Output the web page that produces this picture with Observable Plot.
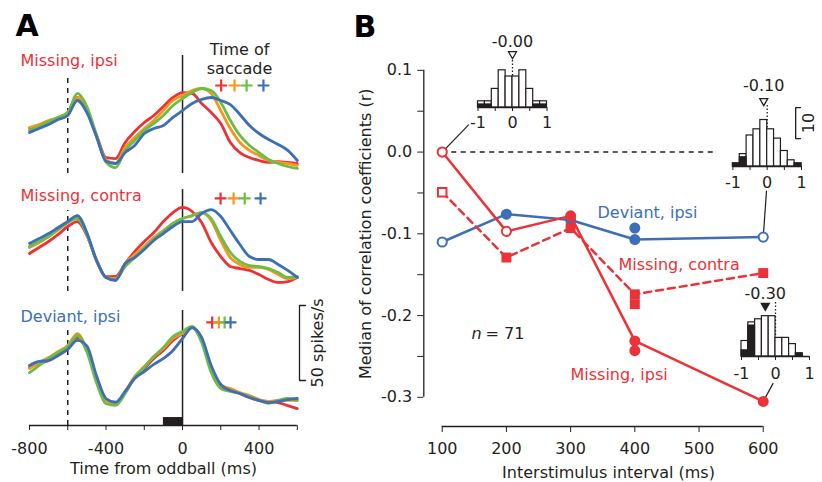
<!DOCTYPE html>
<html><head><meta charset="utf-8">
<script src="https://cdn.jsdelivr.net/npm/d3@7"></script>
<script src="https://cdn.jsdelivr.net/npm/@observablehq/plot@0.6"></script>
<style>
body{margin:0;background:#fff;}
#fig{position:relative;width:822px;height:482px;overflow:hidden;background:#fff;}
#fig svg{position:absolute;}
</style></head><body><div id="fig"></div>
<script>
// ---------- Panel A data (firing rate, spikes/s) ----------
const time = [-800,-750,-700,-650,-600,-550,-500,-450,-400,-350,-300,-250,-200,-150,-100,-50,0,50,100,150,200,250,300,350,400,450,500,550,600];
const ipsiRed    = [31.3,33.3,36,38.7,42,52,43,27,12,11.3,22,29.3,35.3,40,46,52,55.3,54.7,48,42,34.7,22,15.3,12,10,8.7,9.3,8.7,8];
const ipsiOrange = [32,34,36.7,38.7,42,52,44,26,10.5,8,18.7,25.3,31.3,36.7,43.3,50,53.3,56.7,58,54.7,43.3,31.3,22,16.7,13.3,10,8.7,8,6.7];
const ipsiGreen  = [30,32.7,36,38.7,42,54.7,46,27,9,5.3,16.7,23.3,30,34.7,40,46.7,51.3,55.3,58,56.7,48.7,36.7,26.7,20,15.3,10.7,8,6,4.7];
const ipsiBlue   = [28.7,31.3,34,37.3,40,50,42,26,9.5,8,15.3,20,28,31.3,33.3,38.7,43.3,48,50.7,52,50,47.3,40.7,33.3,28,24,20.7,16.7,10];
const contraRed    = [28,32,36,40.7,46,49.3,40,24,12.5,12.7,21.3,29.3,36,42,49.3,55.3,58.7,56,48.7,35.3,26,19.3,18,16.7,14,10.7,8.7,9.3,12];
const contraOrange = [32,35.3,39.3,44,48.7,52,41,23.3,12,11.3,21.3,27.3,32.7,38.7,43.3,48,51.3,53.3,55.3,50,36.7,25.3,20.7,18.7,18.7,17.3,14,11.3,12];
const contraGreen  = [32.7,36,39.3,44,48.7,51.3,40.5,23.3,12,10.7,19.3,25.3,31.3,37.3,42.7,48,51.3,53.3,55.3,51.3,39.3,28.7,22.7,20,19.3,18,15.3,12,12.7];
const contraBlue   = [34.7,38,41.3,45.3,49.3,53.3,42,23.3,12,10,21.3,25.3,30.7,36.7,41.3,46,49.3,49.3,54.7,57.3,52.7,43.3,34,26,24,24,20.7,16.7,12];
const devRed    = [38.7,41.3,43.3,48,52.7,58.7,50,31.3,17,14.7,22,32,38,44.7,50,56.7,61.3,65.3,56.7,38,27.3,24,21.3,18.7,16.7,16,15.3,13.3,11.3];
const devOrange = [38,42,45.3,49.3,53.3,61.3,50.5,31.3,17,14.7,22.7,32.7,39.3,46,51.3,58,61.3,65.3,56.7,38,26.7,24.7,22,20,17.3,16,16.7,16.7,16.7];
const devGreen  = [35.3,40,44.7,48.7,52.7,60,49,28.7,14.5,13.5,21.3,32,38.7,46,52,59.3,62.7,66,55.3,35.3,24.7,22.7,21.3,19.3,16.7,14.7,16.7,18,16.7];
const devBlue   = [40,42.7,43.3,46.7,50.7,56.7,53,33.3,18,15.5,22.7,31.3,36,40.7,44.7,50,58,65.3,58.7,40,27.3,23.3,21.3,18.7,16.7,15.3,16,17.3,18];
const saccIpsi   = [202, 272, 335, 423];
const saccContra = [199, 267, 325, 408];
const saccDev    = [155, 190, 220, 251];
const timeTicks = [-800,-600,-400,-200,0,200,400,600];
const timeTickLabels = [-800,-400,0,400];
const stimBar = [{start:-100, end:0}];

// ---------- Panel B data ----------
const isi = [100, 200, 300, 400, 600];
const missIpsi    = [0.0, -0.097, -0.078, -0.231, -0.305];
const missIpsiSig = [false, false, true, true, true];
const missContra    = [-0.049, -0.129, -0.093, -0.174, -0.148];
const missContraSig = [false, true, true, true, true];
const devIpsi    = [-0.110, -0.076, -0.083, -0.107, -0.104];
const devIpsiSig = [false, true, true, true, false];
const extraIsi = [400];
const missIpsiExtra = [-0.243];
const missContraExtra = [-0.186];
const devIpsiExtra = [-0.093];
const rTicks = [-0.3,-0.25,-0.2,-0.15,-0.1,-0.05,0,0.05,0.1];
const rTickLabels = [-0.3,-0.2,-0.1,0,0.1];
const isiTicks = [100,200,300,400,500,600];

// ---------- Inset histograms ----------
const histEdges = [-1,-0.8,-0.6,-0.4,-0.2,0,0.2,0.4,0.6,0.8,1];
const hist1Counts = [2,2,6,12,10,10,12,6,2,2];
const hist1Black  = [1,1,0,0,0,0,0,0,1,1];
const hist2Counts = [1,4,10,12,15,12,9,5,2,1];
const hist2Black  = [1,3,0,0,0,0,0,0,0,1];
const hist3Counts = [5,11,12,13,13,6,6,4,1,0];
const hist3Black  = [2,10,0,0,0,0,0,0,1,0];
const histMedians = [0, -0.10, -0.30];
const histLabels = ["-0.00", "-0.10", "-0.30"];
const histSig = [false, false, true];

// ---------- styling ----------
const RED = "#ec3237", ORANGE = "#f7941d", GREEN = "#6cbd45", BLUE = "#3d6fb6", INK = "#231f20";
const FONT = "DejaVu Sans, sans-serif";
const fig = document.getElementById("fig");
function place(svg, left, top){ svg.style.left = left + "px"; svg.style.top = top + "px"; fig.appendChild(svg); }
function st(size){ return {background:"transparent", overflow:"visible", fontFamily:FONT, fontSize:size+"px", color:INK}; }
const series = arr => time.map((t,i) => ({t, v: arr[i]}));
const traceColors = [RED, ORANGE, GREEN, BLUE];
function traceMarks(arrs){ return arrs.map((a,i) => Plot.line(series(a), {x:"t", y:"v", stroke:traceColors[i], strokeWidth:2.8, curve:"monotone-x"})); }
function saccMarks(times, yv){ return times.map((t,i) => Plot.dot([t], {x:d=>d, y:yv, symbol:"plus", r:3.9, stroke:traceColors[i], strokeWidth:2.2})); }
const xA = {domain:[-800,600], axis:null};

// Row 1: Missing, ipsi
place(Plot.plot({
  width:340, height:180, marginLeft:29, marginRight:43.2, marginTop:55, marginBottom:7,
  x:xA, y:{domain:[1.33,80], axis:null}, style:st(16),
  marks:[
    Plot.ruleX([-600], {y1:1.33, y2:64.7, stroke:INK, strokeWidth:1.5, strokeDasharray:"5,5"}),
    Plot.ruleX([0], {stroke:INK, strokeWidth:1.5}),
    ...traceMarks([ipsiRed, ipsiOrange, ipsiGreen, ipsiBlue]),
    ...saccMarks(saccIpsi, 60),
    Plot.text(["A"], {x:-873, y:99.3, textAnchor:"start", fontSize:30, fontWeight:"bold", fill:"#000"}),
    Plot.text(["Missing, ipsi"], {x:-847, y:76.7, textAnchor:"start", fill:RED}),
    Plot.text(["Time of\nsaccade"], {x:298, y:78.3, fill:INK, lineHeight:1.2})
  ]
}), 0, 0);

// Row 2: Missing, contra
place(Plot.plot({
  width:340, height:120, marginLeft:29, marginRight:43.2, marginTop:9, marginBottom:9,
  x:xA, y:{domain:[2.67,70.67], axis:null}, style:st(16),
  marks:[
    Plot.ruleX([-600], {y1:2.67, y2:56.7, stroke:INK, strokeWidth:1.5, strokeDasharray:"5,5"}),
    Plot.ruleX([0], {stroke:INK, strokeWidth:1.5}),
    ...traceMarks([contraRed, contraOrange, contraGreen, contraBlue]),
    ...saccMarks(saccContra, 64.7),
    Plot.text(["Missing, contra"], {x:-847, y:66.7, textAnchor:"start", fill:RED})
  ]
}), 0, 180);

// Row 3: Deviant, ipsi (with axis)
place(Plot.plot({
  width:340, height:182, marginLeft:29, marginRight:43.2, marginTop:10, marginBottom:57,
  x:xA, y:{domain:[0,76.67], axis:null}, style:st(16),
  marks:[
    Plot.ruleX([-600], {y1:0, y2:63.3, stroke:INK, strokeWidth:1.5, strokeDasharray:"5,5"}),
    Plot.ruleX([0], {stroke:INK, strokeWidth:1.5}),
    Plot.rect(stimBar, {x1:"start", x2:"end", y1:0, y2:5.3, fill:INK}),
    ...traceMarks([devRed, devOrange, devGreen, devBlue]),
    ...saccMarks(saccDev, 68.7),
    Plot.text(["Deviant, ipsi"], {x:-847, y:72.7, textAnchor:"start", fill:BLUE}),
    Plot.ruleY([0], {x1:-800, x2:600, stroke:INK, strokeWidth:1.3}),
    Plot.axisX({ticks:timeTicks, tickFormat:d => timeTickLabels.includes(d) ? String(d) : "", tickSize:5, tickPadding:12, label:null, fill:INK}),
    Plot.text(["Time from oddball (ms)"], {x:-99.6, y:-28.7, fill:INK}),
    Plot.line([{x:643,y:80},{x:611.5,y:80},{x:611.5,y:30},{x:643,y:30}], {x:"x", y:"y", stroke:INK, strokeWidth:1.3}),
    Plot.text(["50 spikes/s"], {x:705.6, y:55, rotate:-90, fill:INK})
  ]
}), 0, 300);

// ---------- Panel B ----------
const ptsB = (vals, sig) => isi.map((x,i) => ({x, y:vals[i], sig:sig[i]}));
const mi = ptsB(missIpsi, missIpsiSig), mc = ptsB(missContra, missContraSig), dv = ptsB(devIpsi, devIpsiSig);
const ex = (vals) => extraIsi.map((x,i) => ({x, y:vals[i]}));
const connectors = [
  {x1:100, y1:0, x2:141.4, y2:0.0335},
  {x1:600, y1:-0.104, x2:605.1, y2:-0.0472},
  {x1:600, y1:-0.305, x2:615.6, y2:-0.2826}
];
place(Plot.plot({
  width:482, height:482, marginLeft:83.3, marginRight:7, marginTop:10, marginBottom:56,
  x:{domain:[71.3,681.4], axis:null}, y:{domain:[-0.3357,0.1732], axis:null}, style:st(16),
  marks:[
    Plot.text(["B"], {x:-38.2, y:0.1526, textAnchor:"start", fontSize:30, fontWeight:"bold", fill:"#000"}),
    Plot.ruleX([71.3], {y1:-0.3, y2:0.1, stroke:INK, strokeWidth:1.3}),
    Plot.axisY({ticks:rTicks, tickFormat:d => rTickLabels.some(v => Math.abs(v-d) < 1e-9) ? d.toFixed(1) : "", tickSize:6, tickPadding:5.6, label:null, fill:INK}),
    Plot.ruleY([-0.3357], {x1:100, x2:600, stroke:INK, strokeWidth:1.3}),
    Plot.axisX({ticks:isiTicks, tickSize:6, tickPadding:10, label:null, fill:INK}),
    Plot.text(["Median of correlation coefficients (r)"], {x:-19.5, y:-0.1, rotate:-90, fill:INK}),
    Plot.text(["Interstimulus interval (ms)"], {x:359, y:-0.3927, fill:INK}),
    Plot.ruleY([0], {x1:100, x2:528, stroke:INK, strokeWidth:1.5, strokeDasharray:"5,4.5"}),
    Plot.link(connectors, {x1:"x1", y1:"y1", x2:"x2", y2:"y2", stroke:INK, strokeWidth:1.2}),
    // Deviant, ipsi
    Plot.line(dv, {x:"x", y:"y", stroke:BLUE, strokeWidth:2.5}),
    Plot.dot(ex(devIpsiExtra), {x:"x", y:"y", r:5.5, fill:BLUE}),
    Plot.dot(dv.filter(d=>d.sig), {x:"x", y:"y", r:5.5, fill:BLUE}),
    Plot.dot(dv.filter(d=>!d.sig), {x:"x", y:"y", r:4.6, fill:"white", stroke:BLUE, strokeWidth:2}),
    // Missing, contra
    Plot.line(mc, {x:"x", y:"y", stroke:RED, strokeWidth:2.5, strokeDasharray:"7,5"}),
    Plot.dot(ex(missContraExtra), {x:"x", y:"y", symbol:"square", r:5.6, fill:RED}),
    Plot.dot(mc.filter(d=>d.sig), {x:"x", y:"y", symbol:"square", r:5.6, fill:RED}),
    Plot.dot(mc.filter(d=>!d.sig), {x:"x", y:"y", symbol:"square", r:4.8, fill:"white", stroke:RED, strokeWidth:2}),
    // Missing, ipsi
    Plot.line(mi, {x:"x", y:"y", stroke:RED, strokeWidth:2.5}),
    Plot.dot(ex(missIpsiExtra), {x:"x", y:"y", r:5.5, fill:RED}),
    Plot.dot(mi.filter(d=>d.sig), {x:"x", y:"y", r:5.5, fill:RED}),
    Plot.dot(mi.filter(d=>!d.sig), {x:"x", y:"y", r:4.6, fill:"white", stroke:RED, strokeWidth:2}),
    Plot.text(["Deviant, ipsi"], {x:341.9, y:-0.0738, textAnchor:"start", fill:BLUE}),
    Plot.text(["Missing, contra"], {x:374.6, y:-0.1374, textAnchor:"start", fill:RED}),
    Plot.text(["Missing, ipsi"], {x:299.8, y:-0.272, textAnchor:"start", fill:RED}),
    Plot.text(["n"], {x:145.7, y:-0.2218, textAnchor:"start", fontStyle:"italic", fill:INK}),
    Plot.text(["= 71"], {x:167.4, y:-0.2218, textAnchor:"start", fill:INK})
  ]
}), 340, 0);

// ---------- Insets ----------
const downTri = {draw(ctx, size){ const r = Math.sqrt(size/Math.PI); ctx.moveTo(-r,-0.85*r); ctx.lineTo(r,-0.85*r); ctx.lineTo(0,0.9*r); ctx.closePath(); }};
function inset(k, counts, black, cfg){
  const bins = counts.map((n,i) => ({x1:histEdges[i], x2:histEdges[i+1], n, b:black[i]}));
  const marks = [
    Plot.ruleX([0], {y1:0, y2:cfg.dotTop, stroke:INK, strokeWidth:1.3, strokeDasharray:"1.5,2"}),
    Plot.rect(bins.filter(d=>d.n>0), {x1:"x1", x2:"x2", y1:0, y2:"n", fill:"white", stroke:INK, strokeWidth:1.2}),
    Plot.rect(bins.filter(d=>d.b>0), {x1:"x1", x2:"x2", y1:0, y2:"b", fill:INK, stroke:INK, strokeWidth:1}),
    Plot.ruleY([0], {x1:-1, x2:1, stroke:INK, strokeWidth:1.4}),
    Plot.axisX({ticks:[-1,-0.5,0,0.5,1], tickFormat:d => Math.abs(d) === 0.5 ? "" : String(d), tickSize:4, tickPadding:cfg.pad, label:null, fill:INK}),
    Plot.dot([histMedians[k]], {x:d=>d, y:cfg.tri, symbol:downTri, r:4, fill:histSig[k] ? INK : "white", stroke:INK, strokeWidth:1.3}),
    Plot.text([histLabels[k]], {x:histMedians[k], y:cfg.lab, fill:INK})
  ];
  if (cfg.scale) marks.push(
    Plot.line([{x:0.97,y:19},{x:0.83,y:19},{x:0.83,y:9},{x:0.97,y:9}], {x:"x", y:"y", stroke:INK, strokeWidth:1.3}),
    Plot.text(["10"], {x:1.21, y:14, rotate:-90, fill:INK})
  );
  return Plot.plot({
    width:cfg.w, height:cfg.h, marginLeft:cfg.ml, marginRight:cfg.mr, marginTop:0, marginBottom:cfg.mb,
    x:{domain:[-1,1], axis:null}, y:{domain:[0,cfg.ymax], axis:null}, style:st(16), marks
  });
}
place(inset(0, hist1Counts, hist1Black, {w:105, h:107, ml:22.5, mr:13.5, mb:30, ymax:24.84, dotTop:15.8, tri:16.9, lab:21.06, pad:5}), 455, 30);
place(inset(1, hist2Counts, hist2Black, {w:107, h:119, ml:17.4, mr:21, mb:28, ymax:29.35, dotTop:19.7, tri:20.8, lab:26.1, pad:6.5, scale:true}), 715, 75);
place(inset(2, hist3Counts, hist3Black, {w:97, h:104, ml:16, mr:13, mb:28, ymax:24.5, dotTop:17.5, tri:16, lab:20.2, pad:7}), 725, 280);
</script></body></html>
